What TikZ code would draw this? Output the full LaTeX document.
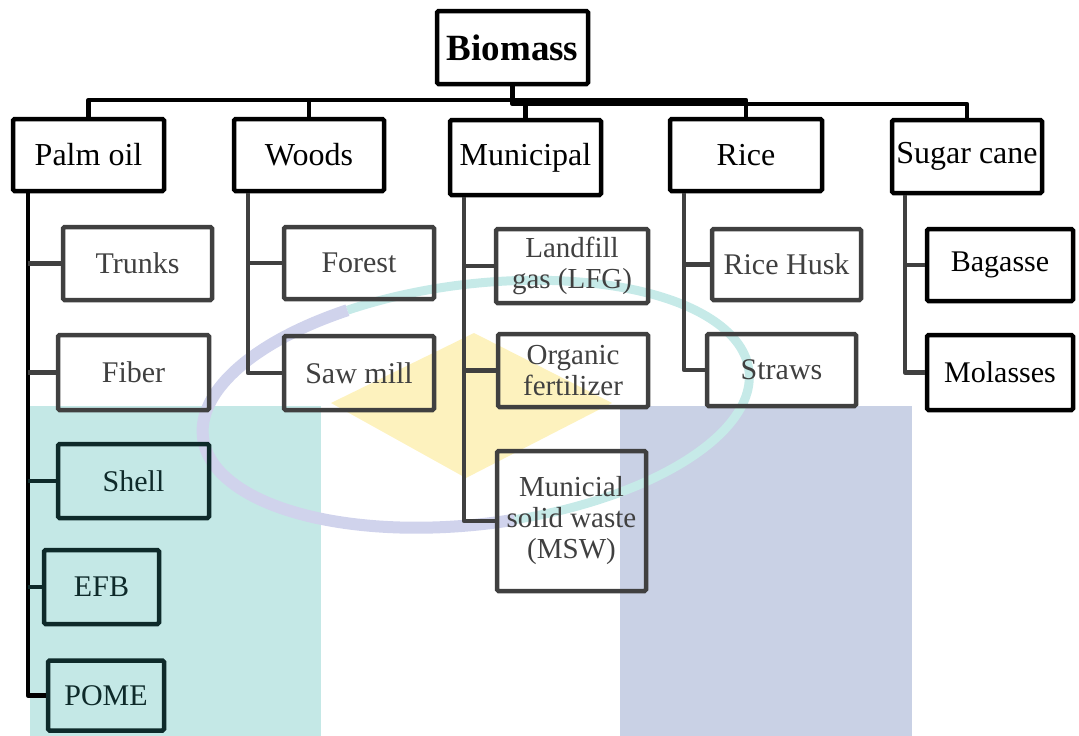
\documentclass[tikz,border=0pt]{standalone}
\usepackage{fontspec}
\setmainfont{Liberation Serif}
\definecolor{dkgray}{HTML}{404040}
\definecolor{dkteal}{HTML}{0E2A2A}
\definecolor{wmteal}{HTML}{C4E8E6}
\definecolor{wmlav}{HTML}{C9D1E5}
\definecolor{wmyel}{HTML}{FDF2BE}
\definecolor{ringlav}{HTML}{D0D3EC}
\definecolor{ringteal}{HTML}{C6EAE8}
\begin{document}
\begin{tikzpicture}[x=1pt,y=-1pt,
  box/.style={draw, line width=4.5pt, rounded corners=1.5pt, inner sep=0pt, align=center,
    font=\fontsize{30}{33}\selectfont},
  topbox/.style={box, font=\fontsize{32}{35}\selectfont},
  gbox/.style={box, draw=dkgray, text=dkgray},
  tbox/.style={box, draw=dkteal, text=dkteal},
  small/.style={font=\fontsize{29}{31}\selectfont},
  link/.style={line width=4.5pt, line join=round},
  glink/.style={link, draw=dkgray},
  tlink/.style={link, draw=dkteal}]
\useasboundingbox (0,0) rectangle (1079,736);
% watermark
\fill[wmteal] (30,406) rectangle (321,736);
\fill[wmlav] (620,406) rectangle (912,736);
\fill[wmyel] (331,403) -- (474,333) -- (612,403) -- (466,478) -- cycle;
\begin{scope}[shift={(476,404)}, rotate=7]
  \draw[ringteal, line width=9pt] (245:275 and 120) arc[start angle=245, end angle=445, x radius=275, y radius=120];
  \draw[ringlav, line width=12pt] (245:275 and 120) arc[start angle=245, end angle=85, x radius=275, y radius=120];
\end{scope}
% root
\node[box, minimum width=151, minimum height=73, font=\fontsize{37}{40}\selectfont\bfseries] (bio) at (512.5,47.5) {Biomass};
% level 1
\node[topbox, minimum width=151, minimum height=72] (palm) at (88.5,155) {Palm oil};
\node[topbox, minimum width=150, minimum height=72] (woods) at (309,155) {Woods};
\node[topbox, minimum width=151, minimum height=75] (muni) at (525.5,157.5) {Municipal};
\node[topbox, minimum width=152, minimum height=72] (rice) at (746,155) {Rice};
\node[topbox, minimum width=150, minimum height=73] (sugar) at (967,156.5) {Sugar cane};
% palm oil
\node[gbox, minimum width=149, minimum height=73] (trunks) at (137.5,263.5) {Trunks};
\node[gbox, minimum width=151, minimum height=75] (fiber) at (133.5,372.5) {Fiber};
\node[tbox, minimum width=151, minimum height=74] (shell) at (133.5,481) {Shell};
\node[tbox, minimum width=115, minimum height=74] (efb) at (101.5,587) {EFB};
\node[tbox, minimum width=116, minimum height=70] (pome) at (106,695.5) {POME};
% woods
\node[gbox, minimum width=150, minimum height=72] (forest) at (359,263) {Forest};
\node[gbox, minimum width=150, minimum height=74] (saw) at (359,373) {Saw mill};
% municipal
\node[gbox, small, minimum width=152, minimum height=74] (lfg) at (572,266) {Landfill\\gas (LFG)};
\node[gbox, small, minimum width=150, minimum height=73] (org) at (573,370.5) {Organic\\fertilizer};
\node[gbox, small, minimum width=149, minimum height=140] (msw) at (571.5,521) {Municial\\solid waste\\(MSW)};
% rice
\node[gbox, minimum width=149, minimum height=71] (husk) at (786.5,264.5) {Rice Husk};
\node[gbox, minimum width=149, minimum height=72] (straws) at (781.5,370) {Straws};
% sugar cane
\node[box, minimum width=146, minimum height=72] (bag) at (1000,265) {Bagasse};
\node[box, minimum width=146, minimum height=75] (mol) at (1000,372.5) {Molasses};
% buses
\coordinate (busA) at (0,100);
\coordinate (busB) at (0,104);
\draw[link] (palm.north) -- (palm.north |- busA) -| (rice.north);
\draw[link] (woods.north) -- (woods.north |- busA);
\draw[link] (bio.south) -- (bio.south |- busB) -| (sugar.north);
\draw[link] (muni.north) -- (muni.north |- busB);
% columns
\coordinate (pv) at (28,0);
\coordinate (wv) at (248,0);
\coordinate (mv) at (464,0);
\coordinate (rv) at (684,0);
\coordinate (sv) at (905,0);
\draw[link] (palm.south -| pv) |- (pome.west);
\draw[glink] (trunks.west) -- (trunks.west -| pv);
\draw[glink] (fiber.west) -- (fiber.west -| pv);
\draw[tlink] (shell.west) -- (shell.west -| pv);
\draw[tlink] (efb.west) -- (efb.west -| pv);
\draw[glink] (woods.south -| wv) |- (saw.west);
\draw[glink] (forest.west) -- (forest.west -| wv);
\draw[glink] (muni.south -| mv) |- (msw.west);
\draw[glink] (lfg.west) -- (lfg.west -| mv);
\draw[glink] (org.west) -- (org.west -| mv);
\draw[glink] (rice.south -| rv) |- (straws.west);
\draw[glink] (husk.west) -- (husk.west -| rv);
\draw[glink] (sugar.south -| sv) |- (mol.west);
\draw[glink] (bag.west) -- (bag.west -| sv);
\end{tikzpicture}
\end{document}
